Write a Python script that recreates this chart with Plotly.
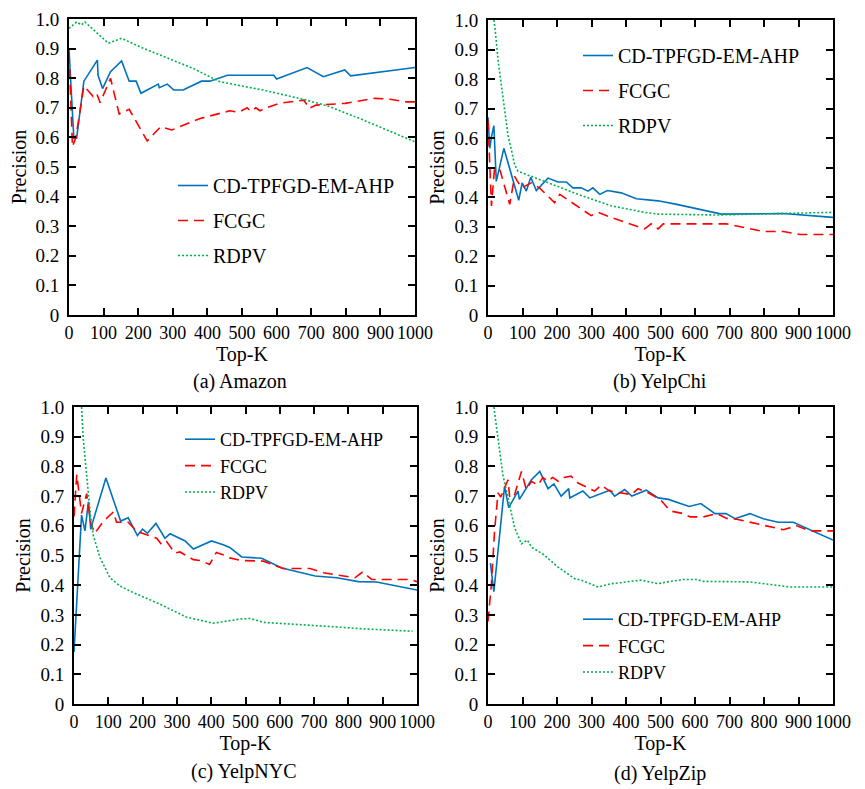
import plotly.graph_objects as go

FONT = "Liberation Serif"

series_names = ["CD-TPFGD-EM-AHP", "FCGC", "RDPV"]
panel_captions = ["(a) Amazon", "(b) YelpChi", "(c) YelpNYC", "(d) YelpZip"]
x_tick_vals = [0, 100, 200, 300, 400, 500, 600, 700, 800, 900, 1000]
x_tick_text = ["0", "100", "200", "300", "400", "500", "600", "700", "800", "900", "1000"]
y_tick_vals = [0, 0.1, 0.2, 0.3, 0.4, 0.5, 0.6, 0.7, 0.8, 0.9, 1.0]
y_tick_text = ["0", "0.1", "0.2", "0.3", "0.4", "0.5", "0.6", "0.7", "0.8", "0.9", "1.0"]

# ---------------- (a) Amazon ----------------
amazon_cd_k = [0, 14, 22, 43, 82, 84, 97, 120, 152, 174, 194, 208, 258, 261, 284, 303, 330,
               383, 407, 458, 592, 600, 688, 735, 797, 814, 1000]
amazon_cd_p = [0.898, 0.597, 0.597, 0.79, 0.861, 0.81, 0.765, 0.822, 0.858, 0.79, 0.79, 0.749,
               0.78, 0.768, 0.78, 0.76, 0.76, 0.79, 0.79, 0.81, 0.81, 0.797, 0.836, 0.805,
               0.828, 0.808, 0.836]
amazon_fcgc_k = [0, 10, 20, 43, 70, 80, 90, 120, 145, 174, 226, 265, 297, 379, 465, 490, 515,
                 525, 540, 552, 570, 607, 679, 694, 714, 798, 884, 928, 973, 1000]
amazon_fcgc_p = [0.886, 0.569, 0.60, 0.774, 0.738, 0.749, 0.717, 0.80, 0.679, 0.695, 0.588,
                 0.636, 0.625, 0.664, 0.69, 0.685, 0.70, 0.688, 0.70, 0.69, 0.70, 0.715, 0.726,
                 0.698, 0.709, 0.715, 0.732, 0.729, 0.72, 0.72]
amazon_rdpv_k = [0, 22, 36, 46, 114, 152, 205, 263, 359, 436, 494, 561, 686, 754, 850, 1000]
amazon_rdpv_p = [0.968, 0.99, 0.98, 0.99, 0.918, 0.935, 0.906, 0.878, 0.833, 0.788, 0.774,
                 0.76, 0.726, 0.704, 0.659, 0.585]

# ---------------- (b) YelpChi ----------------
yelpchi_cd_k = [0, 5, 10, 17, 24, 46, 89, 99, 111, 124, 140, 174, 203, 227, 246, 270, 290, 304,
                324, 346, 386, 430, 493, 547, 677, 856, 1000]
yelpchi_cd_p = [0.670, 0.565, 0.604, 0.642, 0.453, 0.565, 0.389, 0.448, 0.42, 0.467, 0.422,
                0.464, 0.451, 0.451, 0.431, 0.431, 0.42, 0.431, 0.409, 0.422, 0.414, 0.394,
                0.387, 0.375, 0.342, 0.344, 0.331]
yelpchi_fcgc_k = [0, 10, 19, 35, 63, 77, 97, 126, 150, 193, 208, 299, 319, 357, 454, 473, 493,
                  508, 692, 798, 856, 904, 982, 1000]
yelpchi_fcgc_p = [0.659, 0.37, 0.498, 0.49, 0.375, 0.47, 0.431, 0.448, 0.43, 0.381, 0.409,
                  0.337, 0.348, 0.331, 0.292, 0.309, 0.292, 0.309, 0.309, 0.283, 0.283, 0.273,
                  0.273, 0.273]
yelpchi_rdpv_k = [17, 21, 29, 39, 48, 58, 68, 77, 87, 116, 164, 261, 357, 454, 493, 663, 1000]
yelpchi_rdpv_p = [1.0, 0.965, 0.865, 0.776, 0.687, 0.609, 0.559, 0.509, 0.487, 0.475, 0.453,
                  0.409, 0.37, 0.348, 0.342, 0.339, 0.348]

# ---------------- (c) YelpNYC ----------------
yelpnyc_cd_k = [0, 22, 32, 42, 49, 55, 93, 136, 158, 185, 200, 214, 239, 265, 280, 324, 348,
                401, 435, 454, 489, 547, 606, 703, 766, 829, 882, 1000]
yelpnyc_cd_p = [0.175, 0.636, 0.583, 0.681, 0.588, 0.614, 0.761, 0.616, 0.627, 0.567, 0.589,
                0.575, 0.608, 0.558, 0.573, 0.549, 0.522, 0.549, 0.536, 0.527, 0.495, 0.491,
                0.458, 0.431, 0.425, 0.412, 0.411, 0.384]
yelpnyc_fcgc_k = [0, 8, 22, 37, 49, 61, 85, 115, 124, 158, 183, 207, 241, 256, 270, 294, 309,
                  348, 370, 395, 415, 440, 454, 489, 552, 610, 688, 727, 819, 842, 868, 980, 1000]
yelpnyc_fcgc_p = [0.631, 0.772, 0.642, 0.708, 0.608, 0.575, 0.614, 0.647, 0.612, 0.612, 0.581,
                  0.572, 0.558, 0.536, 0.547, 0.508, 0.512, 0.486, 0.483, 0.47, 0.51, 0.50,
                  0.492, 0.483, 0.481, 0.456, 0.456, 0.442, 0.425, 0.445, 0.419, 0.419, 0.412]
yelpnyc_rdpv_k = [22, 27, 37, 47, 56, 76, 105, 134, 173, 251, 329, 406, 484, 513, 552, 649, 746,
                  843, 987]
yelpnyc_rdpv_p = [1.0, 0.892, 0.769, 0.647, 0.569, 0.492, 0.425, 0.397, 0.375, 0.336, 0.292,
                  0.272, 0.286, 0.288, 0.275, 0.269, 0.261, 0.253, 0.245]

# ---------------- (d) YelpZip ----------------
yelpzip_cd_k = [7, 17, 48, 60, 87, 91, 126, 150, 174, 191, 212, 234, 237, 275, 295, 353, 367,
                396, 417, 459, 493, 523, 583, 617, 658, 690, 716, 759, 798, 841, 885, 1000]
yelpzip_cd_p = [0.474, 0.378, 0.733, 0.661, 0.717, 0.689, 0.755, 0.783, 0.725, 0.741, 0.70,
                0.725, 0.694, 0.717, 0.694, 0.72, 0.70, 0.722, 0.70, 0.72, 0.694, 0.689, 0.665,
                0.675, 0.641, 0.641, 0.624, 0.641, 0.624, 0.612, 0.612, 0.552]
yelpzip_fcgc_k = [0, 10, 19, 29, 37, 50, 58, 63, 77, 97, 111, 126, 145, 159, 172, 188, 203, 220,
                  241, 261, 280, 309, 328, 353, 416, 435, 464, 499, 528, 566, 586, 624, 663, 692,
                  721, 779, 856, 895, 933, 1000]
yelpzip_fcgc_p = [0.278, 0.405, 0.583, 0.711, 0.697, 0.737, 0.755, 0.694, 0.705, 0.783, 0.722,
                  0.75, 0.737, 0.763, 0.75, 0.763, 0.75, 0.763, 0.767, 0.744, 0.733, 0.717,
                  0.737, 0.717, 0.705, 0.725, 0.711, 0.689, 0.65, 0.641, 0.63, 0.63, 0.641,
                  0.625, 0.622, 0.608, 0.587, 0.60, 0.583, 0.583]
yelpzip_rdpv_k = [17, 29, 43, 58, 77, 97, 114, 126, 159, 203, 251, 270, 319, 357, 406, 444, 493,
                  518, 566, 605, 624, 759, 875, 1000]
yelpzip_rdpv_p = [1.0, 0.894, 0.772, 0.694, 0.594, 0.539, 0.552, 0.528, 0.505, 0.461, 0.422,
                  0.417, 0.394, 0.405, 0.411, 0.417, 0.405, 0.411, 0.419, 0.419, 0.413, 0.411,
                  0.394, 0.394]

panels = [
    [(amazon_cd_k, amazon_cd_p), (amazon_fcgc_k, amazon_fcgc_p), (amazon_rdpv_k, amazon_rdpv_p)],
    [(yelpchi_cd_k, yelpchi_cd_p), (yelpchi_fcgc_k, yelpchi_fcgc_p), (yelpchi_rdpv_k, yelpchi_rdpv_p)],
    [(yelpnyc_cd_k, yelpnyc_cd_p), (yelpnyc_fcgc_k, yelpnyc_fcgc_p), (yelpnyc_rdpv_k, yelpnyc_rdpv_p)],
    [(yelpzip_cd_k, yelpzip_cd_p), (yelpzip_fcgc_k, yelpzip_fcgc_p), (yelpzip_rdpv_k, yelpzip_rdpv_p)],
]

# The page body has an 8px margin, so the figure is drawn 8px in from the window corner.
OFF = 8
FW, FH = 865 - OFF, 789 - OFF


def px(xp):
    return (xp - OFF) / FW


def py(yp):
    return 1 - (yp - OFF) / FH


line_styles = [
    dict(color="#0072BD", width=1.6, dash="solid"),
    dict(color="#FF0000", width=1.6, dash="10px,6px"),
    dict(color="#00B050", width=1.6, dash="2px,2px"),
]

# window-pixel boxes of each panel: (left, right, top, bottom)
boxes = [(69, 415, 19, 315), (488, 833, 20, 315), (74, 417, 407, 704), (488, 833, 407, 704)]
# legend placement: text start x px, legend top y px, group gap, font size
legend_pos = [(215, 166, 6, 20), (620, 36, 6, 20), (222, 421, 0, 18), (620, 601, 0, 18)]
caption_pos = [(240, 381), (660, 381), (244, 771), (660, 773)]

fig = go.Figure()
for i, series in enumerate(panels):
    ax = "" if i == 0 else str(i + 1)
    lg = "legend" if i == 0 else f"legend{i + 1}"
    for j, (k, p) in enumerate(series):
        fig.add_trace(go.Scatter(
            x=k, y=p, mode="lines", name=series_names[j],
            line=line_styles[j], xaxis="x" + ax, yaxis="y" + ax,
            legend=lg, legendgroup=f"g{i}_{j}", showlegend=True,
        ))

layout = dict(
    width=FW, height=FH, margin=dict(l=0, r=0, t=0, b=0, autoexpand=False),
    paper_bgcolor="white", plot_bgcolor="white",
    font=dict(family=FONT, size=20, color="black"),
    showlegend=True,
)

axis_common = dict(
    showline=True, linewidth=2, linecolor="black", mirror="ticks",
    ticks="inside", ticklen=7, tickwidth=2, tickcolor="black",
    showgrid=False, zeroline=False, fixedrange=True, automargin=False,
)

annotations = []
for i, (l, r, t, b) in enumerate(boxes):
    ax = "" if i == 0 else str(i + 1)
    layout["xaxis" + ax] = dict(
        axis_common, domain=[px(l), px(r)], range=[0, 1000],
        tickvals=x_tick_vals, ticktext=x_tick_text, tickangle=0,
        tickfont=dict(family=FONT, size=18, color="black"),
        anchor="y" + ax,
        title=dict(text="Top-K", font=dict(family=FONT, size=20), standoff=2),
    )
    layout["yaxis" + ax] = dict(
        axis_common, domain=[py(b), py(t)], range=[0, 1],
        tickvals=y_tick_vals, ticktext=y_tick_text,
        tickfont=dict(family=FONT, size=19, color="black"),
        anchor="x" + ax, ticklabelstandoff=4,
        title=dict(text="Precision", font=dict(family=FONT, size=20), standoff=4),
    )
    tx, ty, gap, fs = legend_pos[i]
    lg = "legend" if i == 0 else f"legend{i + 1}"
    layout[lg] = dict(
        x=px(tx - 42), y=py(ty), xanchor="left", yanchor="top",
        bgcolor="rgba(0,0,0,0)", borderwidth=0,
        font=dict(family=FONT, size=fs, color="black"),
        tracegroupgap=gap, traceorder="grouped", itemwidth=30,
    )
    cx, cy = caption_pos[i]
    annotations.append(dict(
        text=panel_captions[i], x=px(cx), y=py(cy), xref="paper", yref="paper",
        xanchor="center", yanchor="middle", showarrow=False,
        font=dict(family=FONT, size=20, color="black"),
    ))

layout["annotations"] = annotations
fig.update_layout(**layout)
fig.write_html("out.html")
